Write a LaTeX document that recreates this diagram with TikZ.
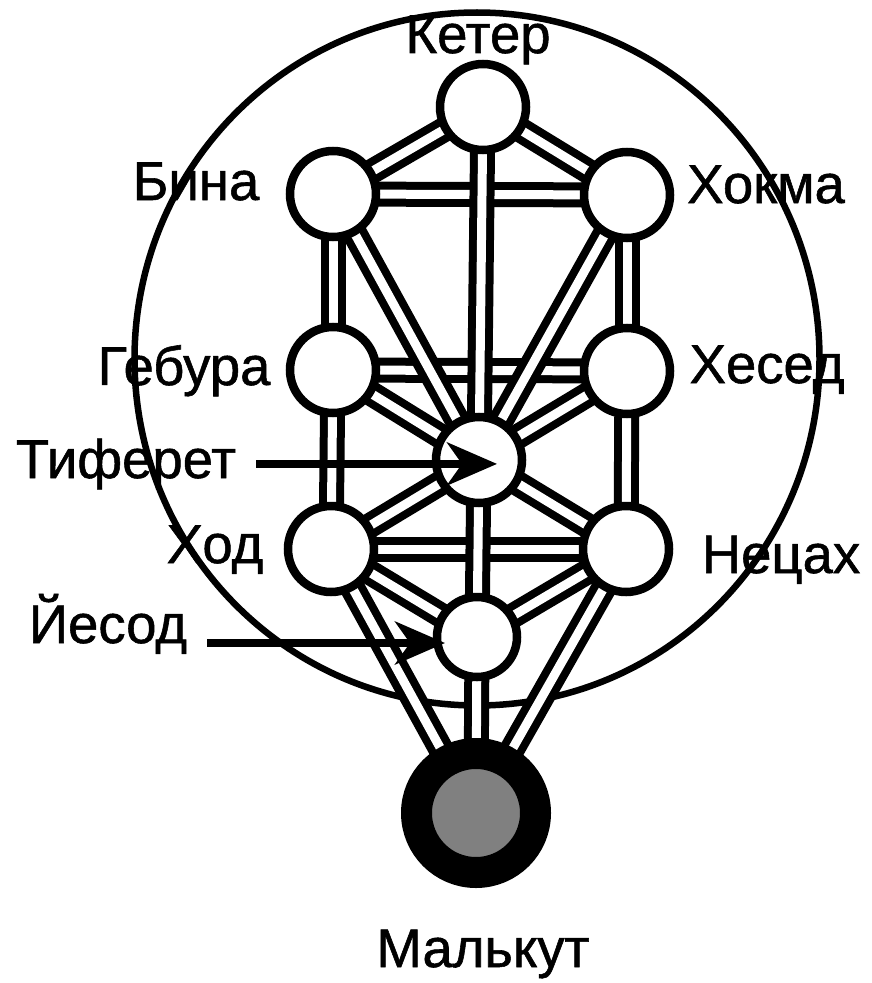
\documentclass[tikz,border=0pt]{standalone}
\usepackage{fontspec}
\setmainfont{Liberation Sans}
\newfontfamily\namefont[FakeBold=1]{Liberation Sans}
\usetikzlibrary{arrows.meta,backgrounds}

\begin{document}
\begin{tikzpicture}[
    sefira/.style={circle, draw, fill=white, line width=0.17cm, minimum size=1.72cm, inner sep=0pt},
    channel/.style={draw, line width=0.16cm, double=white, double distance=0.18cm},
    lbl/.style={font=\namefont\fontsize{31}{37}\selectfont, anchor=base, inner xsep=0.4cm},
    pointer/.style={line width=0.15cm, -{Stealth[length=1cm, width=0.86cm, inset=0.3cm]}}
  ]

	\useasboundingbox (0,0) rectangle (17.44,-19.66);

	% The ten sefirot
	\node[sefira] (keter)   at (9.66,-2.14)  {};
	\node[sefira] (bina)    at (6.66,-3.88)  {};
	\node[sefira] (chokmah) at (12.54,-3.90) {};
	\node[sefira] (gevurah) at (6.66,-7.40)  {};
	\node[sefira] (chesed)  at (12.54,-7.42) {};
	\node[sefira] (tif)     at (9.58,-9.20)  {};
	\node[sefira] (hod)     at (6.62,-10.98) {};
	\node[sefira] (netzach) at (12.52,-10.98) {};
	\node[sefira, minimum size=1.6cm] (yesod) at (9.54,-12.74) {};
	\node[circle, draw, fill=gray, line width=0.62cm, minimum size=2.38cm, inner sep=0pt] (malkhut) at (9.52,-16.26) {};

	\begin{scope}[on background layer]
		% Outer circle
		\draw[line width=0.13cm] (9.54,-7.18) ellipse [x radius=6.85cm, y radius=6.93cm];

		% Horizontal paths go underneath
		\foreach \a/\b in {bina/chokmah, gevurah/chesed, hod/netzach}
			\draw[channel] (\a.center) -- (\b.center);

		% The other paths
		\foreach \a/\b in {keter/bina, keter/chokmah, bina/gevurah, chokmah/chesed,
			bina/tif, chokmah/tif, gevurah/tif, chesed/tif, gevurah/hod, chesed/netzach,
			tif/hod, tif/netzach, hod/yesod, netzach/yesod, hod/malkhut, netzach/malkhut,
			keter/tif, tif/yesod, yesod/malkhut}
			\draw[channel] (\a.center) -- (\b.center);
	\end{scope}

	% Names
	\node[lbl] (keterl)   at (9.56,-1.06)  {Кетер};
	\node[lbl] (binal)    at (3.92,-4.00)  {Бина};
	\node[lbl] (chokmahl) at (15.32,-4.06) {Хокма};
	\node[lbl] (gevurahl) at (3.68,-7.70)  {Гебура};
	\node[lbl] (chesedl)  at (15.34,-7.66) {Хесед};
	\node[lbl] (tifl)     at (2.52,-9.56)  {Тиферет};
	\node[lbl] (hodl)     at (4.30,-11.26) {Ход};
	\node[lbl] (netzachl) at (15.62,-11.46) {Нецах};
	\node[lbl] (yesodl)   at (2.16,-12.86) {Йесод};
	\node[lbl] (malkhutl) at (9.66,-19.34) {Малькут};

	% Arrows into Tiferet and Yesod
	\coordinate (tiftip) at (9.94,-9.26);
	\coordinate (yesodtip) at (8.90,-12.86);
	\draw[pointer] (tifl.east) -- (tifl.east -| tiftip);
	\draw[pointer] (yesodl.base east) -- (yesodl.base east -| yesodtip);

\end{tikzpicture}
\end{document}
